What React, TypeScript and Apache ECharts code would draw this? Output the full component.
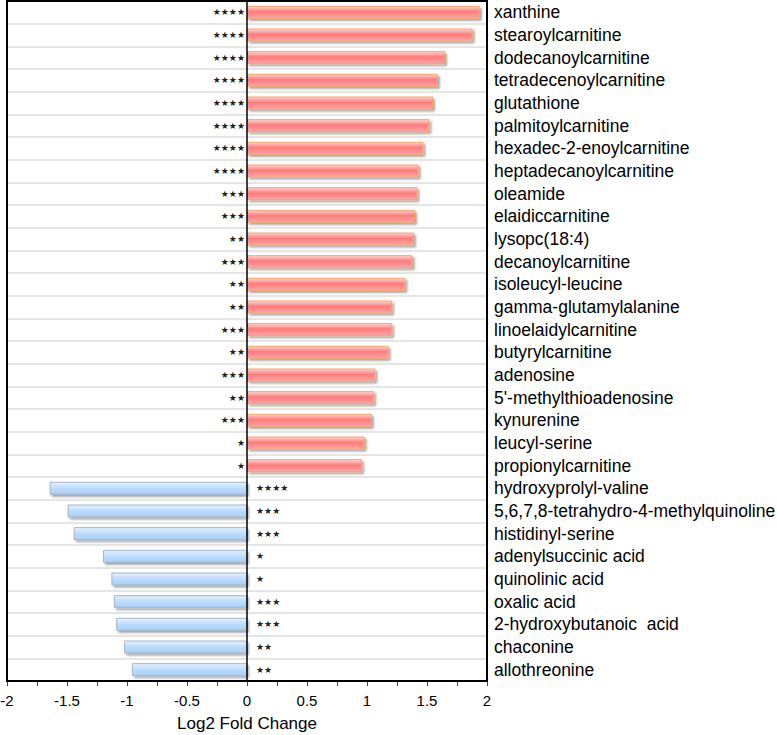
import React, { useEffect, useRef } from "react";
import * as echarts from "echarts";

const categories: string[] = [
  "xanthine",
  "stearoylcarnitine",
  "dodecanoylcarnitine",
  "tetradecenoylcarnitine",
  "glutathione",
  "palmitoylcarnitine",
  "hexadec-2-enoylcarnitine",
  "heptadecanoylcarnitine",
  "oleamide",
  "elaidiccarnitine",
  "lysopc(18:4)",
  "decanoylcarnitine",
  "isoleucyl-leucine",
  "gamma-glutamylalanine",
  "linoelaidylcarnitine",
  "butyrylcarnitine",
  "adenosine",
  "5'-methylthioadenosine",
  "kynurenine",
  "leucyl-serine",
  "propionylcarnitine",
  "hydroxyprolyl-valine",
  "5,6,7,8-tetrahydro-4-methylquinoline",
  "histidinyl-serine",
  "adenylsuccinic acid",
  "quinolinic acid",
  "oxalic acid",
  "2-hydroxybutanoic  acid",
  "chaconine",
  "allothreonine",
];

const log2FC: number[] = [
  1.94, 1.88, 1.65, 1.59, 1.55, 1.52, 1.47, 1.43, 1.42, 1.4, 1.39, 1.38, 1.32,
  1.21, 1.21, 1.18, 1.07, 1.06, 1.04, 0.98, 0.96,
  -1.645, -1.495, -1.445, -1.2, -1.13, -1.11, -1.09, -1.025, -0.96,
];

const significance: string[] = [
  "****", "****", "****", "****", "****", "****", "****", "****", "***", "***",
  "**", "***", "**", "**", "***", "**", "***", "**", "***", "*", "*",
  "****", "***", "***", "*", "*", "***", "***", "**", "**",
];

const xTicks: number[] = [-2, -1.5, -1, -0.5, 0, 0.5, 1, 1.5, 2];

const FONT = "'Liberation Sans', Arial, sans-serif";

export default function App() {
  const ref = useRef<HTMLDivElement>(null);

  useEffect(() => {
    if (!ref.current) return;
    const chart = echarts.init(ref.current, undefined, { renderer: "svg" });

    const posColor = new echarts.graphic.LinearGradient(0, 0, 0, 1, [
      { offset: 0, color: "#ffd3d3" },
      { offset: 0.45, color: "#ff7b7b" },
      { offset: 1, color: "#ffa5a5" },
    ]);
    const negColor = new echarts.graphic.LinearGradient(0, 0, 0, 1, [
      { offset: 0, color: "#e6f2ff" },
      { offset: 0.5, color: "#bcdcfd" },
      { offset: 1, color: "#a9cff5" },
    ]);

    const data = log2FC.map((v, i) => {
      const pos = v >= 0;
      return {
        value: v,
        itemStyle: {
          color: pos ? posColor : negColor,
          borderColor: pos ? "#f2a66a" : "#a3b6ca",
          borderWidth: 1,
          shadowColor: "rgba(0,0,0,0.35)",
          shadowBlur: 2,
          shadowOffsetX: 2,
          shadowOffsetY: 2,
        },
        label: {
          show: true,
          formatter: significance[i].replace(/\*/g, "★"),
          position: pos ? "left" : "right",
          distance: pos ? 2 : 9,
          color: "#222",
          fontSize: 9,
          fontFamily: "'DejaVu Sans', sans-serif",
        },
      };
    });

    chart.setOption({
      animation: false,
      backgroundColor: "#ffffff",
      grid: {
        left: 7,
        right: 290,
        top: 1,
        bottom: 54,
        show: true,
        borderColor: "#000",
        borderWidth: 2,
        backgroundColor: "transparent",
        containLabel: false,
        outerBoundsMode: "none",
        z: 3,
      },
      xAxis: {
        type: "value",
        min: -2,
        max: 2,
        interval: 0.5,
        axisLine: { show: true, lineStyle: { color: "#000", width: 2 } },
        axisTick: { show: true, length: 5, lineStyle: { color: "#444" } },
        minorTick: { show: true, splitNumber: 2, length: 5, lineStyle: { color: "#444" } },
        splitLine: { show: false },
        axisLabel: {
          color: "#000",
          fontSize: 15,
          fontFamily: FONT,
          margin: 12,
          formatter: (v: number) => (xTicks.includes(v) ? String(v) : ""),
        },
        name: "Log2 Fold Change",
        nameLocation: "middle",
        nameGap: 34,
        nameTextStyle: { color: "#000", fontSize: 17, fontFamily: FONT },
      },
      yAxis: {
        type: "category",
        data: categories,
        inverse: true,
        position: "right",
        axisLine: { show: false },
        axisTick: { show: false },
        splitLine: { show: true, lineStyle: { color: "#dcdcdc", width: 1.5 } },
        axisLabel: {
          color: "#000",
          fontSize: 17.5,
          fontFamily: FONT,
          margin: 7,
          interval: 0,
        },
      },
      series: [
        {
          type: "bar",
          data,
          barWidth: 13,
          markLine: {
            silent: true,
            symbol: "none",
            label: { show: false },
            lineStyle: { color: "#000", width: 1.5, type: "solid" },
            data: [{ xAxis: 0 }],
          },
        },
      ],
    });

    return () => chart.dispose();
  }, []);

  return (
    <div
      ref={ref}
      style={{ position: "absolute", left: 0, top: 0, width: 777, height: 735 }}
    />
  );
}
